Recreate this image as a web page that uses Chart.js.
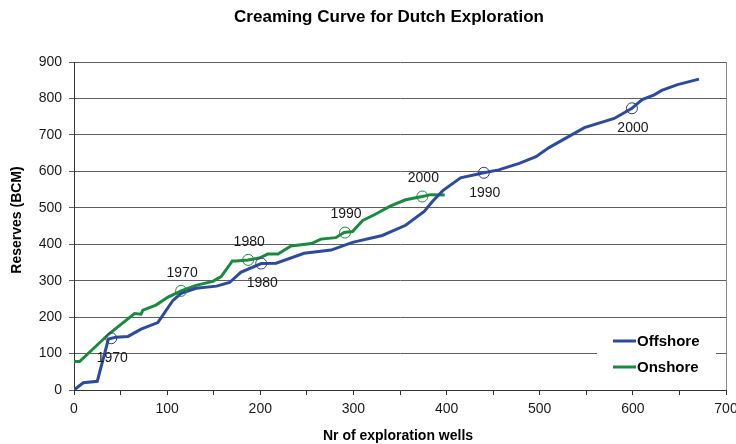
<!DOCTYPE html>
<html><head><meta charset="utf-8">
<script src="https://cdn.jsdelivr.net/npm/chart.js@4/dist/chart.umd.min.js"></script>
<style>html,body{margin:0;padding:0;background:#fff}</style>
</head><body>
<canvas id="c" width="736" height="444"></canvas>
<script>
// ---- data ----
const offshoreWells    = [0, 10, 25, 37, 45, 58, 72, 90, 106, 115, 131, 153, 167, 179, 201, 217, 247, 276, 299, 331, 356, 376, 385, 396, 415, 440, 456, 478, 496, 510, 548, 580, 599, 610, 623, 631, 648, 671];
const offshoreReserves = [0, 20, 24, 140, 145, 147, 167, 185, 245, 265, 279, 285, 295, 323, 347, 348, 375, 384, 405, 424, 452, 490, 518, 547, 582, 596, 604, 622, 640, 665, 720, 745, 773, 797, 810, 822, 838, 853];
const onshoreWells     = [0, 6, 38, 65, 72, 74, 88, 101, 115, 131, 149, 158, 170, 174, 187, 199, 208, 219, 233, 255, 265, 281, 290, 299, 310, 324, 340, 356, 374, 383, 398];
const onshoreReserves  = [78, 78, 155, 210, 208, 219, 233, 255, 272, 287, 298, 311, 354, 354, 357, 362, 373, 373, 395, 402, 414, 418, 432, 435, 465, 483, 505, 522, 531, 536, 535];
const markerYears = ['1970', '1980', '1990', '2000'];
const offshoreMarkerWells    = [40, 201, 440, 599];
const offshoreMarkerReserves = [142, 347, 596, 773];
const onshoreMarkerWells     = [115, 187, 291, 374];
const onshoreMarkerReserves  = [272, 357, 432, 531];
const seriesNames = ['Offshore', 'Onshore'];
const chartTitle = 'Creaming Curve for Dutch Exploration';
const xTitle = 'Nr of exploration wells';
const yTitle = 'Reserves (BCM)';

const BLUE = '#2D4B9E', GREEN = '#1C8A3E', BLUE_M = '#2B3A8E';
const FONT = 'Arial, "Liberation Sans", sans-serif';

const pts = (xs, ys) => xs.map((x, i) => ({x, y: ys[i]}));
const mpts = (xs, ys) => xs.map((x, i) => ({x, y: ys[i], label: markerYears[i]}));

const decor = {
  id: 'decor',
  afterDatasetsDraw(chart) {
    const ctx = chart.ctx;
    ctx.save();
    ctx.font = '14px ' + FONT;
    ctx.fillStyle = '#1a1a1a';
    ctx.textAlign = 'center';
    ctx.textBaseline = 'middle';
    chart.data.datasets.forEach((ds, di) => {
      if (!ds.isMarker) return;
      const meta = chart.getDatasetMeta(di);
      meta.data.forEach((p, i) => {
        ctx.fillText(ds.data[i].label, p.x + 1, p.y + ds.labelDy);
      });
    });
    ctx.restore();
  },
  afterDraw(chart) {
    const ctx = chart.ctx, a = chart.chartArea;
    ctx.save();
    // right border
    ctx.strokeStyle = '#8a8a8a'; ctx.lineWidth = 1;
    ctx.beginPath(); ctx.moveTo(Math.round(a.right) + 0.5, a.top); ctx.lineTo(Math.round(a.right) + 0.5, a.bottom); ctx.stroke();
    // title
    ctx.fillStyle = '#000';
    ctx.textAlign = 'center'; ctx.textBaseline = 'middle';
    ctx.font = 'bold 17px ' + FONT;
    ctx.fillText(chartTitle, 389, 17);
    // axis titles
    ctx.font = 'bold 14px ' + FONT;
    ctx.fillText(xTitle, 398, 436);
    ctx.save();
    ctx.translate(17, 220); ctx.rotate(-Math.PI / 2);
    ctx.fillText(yTitle, 0, 0);
    ctx.restore();
    // legend
    ctx.fillStyle = '#fff';
    ctx.fillRect(597, 326, 119, 56);
    const items = [[seriesNames[0], BLUE, 341], [seriesNames[1], GREEN, 367]];
    ctx.font = 'bold 15px ' + FONT;
    ctx.textAlign = 'left';
    items.forEach(([t, c, y]) => {
      ctx.strokeStyle = c; ctx.lineWidth = 3;
      ctx.beginPath(); ctx.moveTo(613, y); ctx.lineTo(636, y); ctx.stroke();
      ctx.fillStyle = '#000';
      ctx.fillText(t, 637, y + 1);
    });
    ctx.restore();
  }
};

new Chart(document.getElementById('c'), {
  type: 'line',
  data: {
    datasets: [
      {label: seriesNames[0], data: pts(offshoreWells, offshoreReserves), borderColor: BLUE, borderWidth: 3, pointRadius: 0, tension: 0, fill: false, order: 2},
      {label: seriesNames[1], data: pts(onshoreWells, onshoreReserves), borderColor: GREEN, borderWidth: 3, pointRadius: 0, tension: 0, fill: false, order: 3},
      {label: 'm1', isMarker: true, labelDy: 20, data: mpts(offshoreMarkerWells, offshoreMarkerReserves), showLine: false, pointRadius: 5.5, pointBorderWidth: 1, pointBorderColor: BLUE_M, pointBackgroundColor: 'rgba(0,0,0,0)', order: 0},
      {label: 'm2', isMarker: true, labelDy: -18, data: mpts(onshoreMarkerWells, onshoreMarkerReserves), showLine: false, pointRadius: 5.5, pointBorderWidth: 1, pointBorderColor: GREEN, pointBackgroundColor: 'rgba(0,0,0,0)', order: 1}
    ]
  },
  options: {
    responsive: false, animation: false, devicePixelRatio: 1,
    layout: {padding: {top: 62, right: 10, left: 0, bottom: 0}},
    plugins: {legend: {display: false}, tooltip: {enabled: false}, title: {display: false}},
    scales: {
      x: {
        type: 'linear', min: 0, max: 700,
        ticks: {stepSize: 50, autoSkip: false, maxRotation: 0, padding: 6, color: '#1a1a1a', font: {family: FONT, size: 14},
          callback: v => (v % 100 === 0 ? String(v) : '')},
        grid: {drawOnChartArea: false, tickLength: 5, color: '#333'},
        border: {color: '#333', width: 1},
        afterFit: s => { s.height = 54; s.paddingRight = 0; s.paddingLeft = 0; }
      },
      y: {
        min: 0, max: 900,
        ticks: {stepSize: 100, padding: 7, color: '#1a1a1a', font: {family: FONT, size: 14}},
        grid: {color: '#5e5e5e', tickLength: 5},
        border: {color: '#333', width: 1},
        afterFit: s => { s.width = 74; s.paddingTop = 0; s.paddingBottom = 0; }
      }
    }
  },
  plugins: [decor]
});
</script>
</body></html>
